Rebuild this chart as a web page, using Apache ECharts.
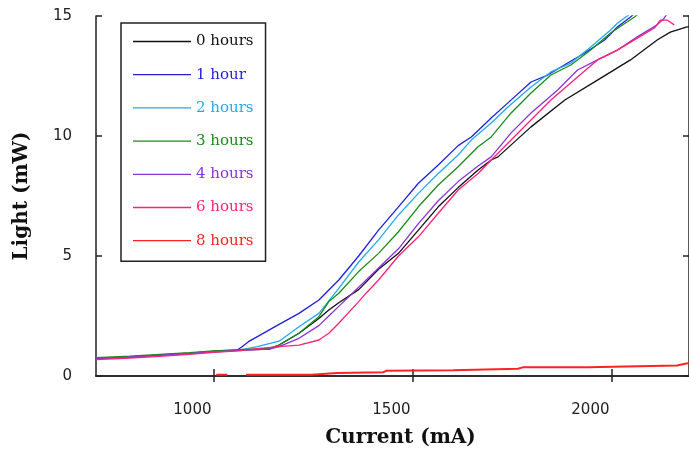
<!DOCTYPE html>
<html>
<head>
<meta charset="utf-8">
<script src="https://cdn.jsdelivr.net/npm/echarts@6/dist/echarts.min.js"></script>
<style>
html,body{margin:0;padding:0;background:#fff;}
#chart{width:689px;height:458px;}
</style>
</head>
<body>
<div id="chart"></div>
<script>
// ---- data (Current mA, Light mW) ----
var seriesNames = ['0 hours', '1 hour', '2 hours', '3 hours', '4 hours', '6 hours', '8 hours'];
var seriesColors = ['#111111', '#1f1fdd', '#22aaee', '#1a8c1a', '#8833dd', '#ff2277', '#ff2222'];
var xTickValues = [1000, 1500, 2000];
var yTickValues = [0, 5, 10, 15];

var hours0 = [[705,0.73],[790,0.8],[865,0.87],[940,0.94],[1000,1.02],[1065,1.08],[1140,1.12],[1165,1.29],[1215,1.78],[1265,2.4],[1290,2.75],[1315,3.05],[1365,3.6],[1415,4.45],[1465,5.11],[1515,6.08],[1565,7.05],[1615,7.85],[1665,8.58],[1698,9.0],[1715,9.13],[1798,10.38],[1883,11.5],[1965,12.33],[2048,13.17],[2115,14.0],[2148,14.33],[2188,14.54],[2195,14.56]];
var hours1 = [[705,0.73],[790,0.8],[865,0.88],[940,0.95],[1000,1.03],[1060,1.08],[1072,1.22],[1088,1.43],[1115,1.68],[1165,2.15],[1215,2.61],[1265,3.17],[1315,4.0],[1365,5.0],[1415,6.08],[1465,7.05],[1515,8.03],[1565,8.79],[1615,9.6],[1648,9.96],[1698,10.75],[1740,11.38],[1798,12.25],[1840,12.54],[1890,13.04],[1933,13.46],[1983,14.0],[2015,14.54],[2048,14.96],[2078,15.4]];
var hours2 = [[705,0.72],[790,0.79],[865,0.87],[940,0.94],[1000,1.02],[1065,1.08],[1110,1.22],[1165,1.45],[1215,2.05],[1265,2.61],[1315,3.65],[1365,4.75],[1415,5.67],[1465,6.71],[1515,7.61],[1565,8.44],[1615,9.21],[1648,9.83],[1698,10.54],[1740,11.21],[1798,12.04],[1848,12.67],[1898,13.04],[1948,13.71],[1998,14.42],[2015,14.7],[2048,15.1],[2078,15.4]];
var hours3 = [[705,0.76],[790,0.83],[865,0.9],[940,0.97],[1000,1.05],[1065,1.1],[1140,1.15],[1165,1.29],[1215,1.78],[1265,2.47],[1290,3.1],[1315,3.45],[1365,4.35],[1415,5.11],[1465,6.01],[1515,7.05],[1565,7.96],[1615,8.72],[1665,9.55],[1698,9.96],[1748,10.96],[1798,11.79],[1848,12.54],[1898,12.96],[1948,13.58],[1998,14.29],[2058,14.96],[2090,15.4]];
var hours4 = [[705,0.72],[790,0.79],[865,0.86],[940,0.93],[1000,1.0],[1065,1.07],[1140,1.12],[1165,1.22],[1215,1.57],[1265,2.1],[1290,2.5],[1315,2.9],[1365,3.7],[1415,4.5],[1465,5.3],[1515,6.35],[1565,7.3],[1615,8.1],[1665,8.75],[1698,9.13],[1748,10.13],[1798,10.96],[1865,11.92],[1915,12.75],[1965,13.17],[2015,13.58],[2065,14.13],[2115,14.63],[2133,14.92],[2145,15.2]];
var hours6 = [[705,0.68],[790,0.75],[865,0.82],[940,0.9],[1000,0.99],[1065,1.05],[1115,1.15],[1165,1.22],[1215,1.29],[1265,1.5],[1290,1.78],[1315,2.2],[1365,3.1],[1383,3.44],[1415,4.0],[1465,5.0],[1515,5.8],[1565,6.78],[1615,7.75],[1665,8.44],[1698,9.0],[1748,9.83],[1798,10.67],[1848,11.5],[1915,12.46],[1965,13.17],[2015,13.58],[2065,14.08],[2108,14.5],[2123,14.83],[2140,14.83],[2158,14.63]];
var hours8 = [[1007,0.05],[1035,0.05],[1040,null],[1078,null],[1082,0.05],[1247,0.05],[1252,0.1],[1310,0.12],[1315,0.16],[1427,0.16],[1435,0.22],[1602,0.24],[1607,0.3],[1765,0.3],[1777,0.36],[1940,0.36],[1945,0.44],[2165,0.44],[2188,0.52],[2195,0.53]];
var allData = [hours0, hours1, hours2, hours3, hours4, hours6, hours8];

var chart = echarts.init(document.getElementById('chart'), null, {renderer: 'canvas'});
var axisColor = '#222';
var labelFont = {fontFamily: 'DejaVu Sans', fontSize: 15, color: '#222'};
var nameFont = {fontFamily: 'DejaVu Serif', fontWeight: 'bold', fontSize: 20, color: '#111'};
var plain = function (v) { return String(v); };
var lineIcon = 'path://M0,0L58,0L58,1.3L0,1.3Z';

var series = seriesNames.map(function (n, i) {
  return {
    name: n,
    type: 'line',
    data: allData[i],
    symbol: 'none',
    connectNulls: false,
    clip: true,
    lineStyle: {color: seriesColors[i], width: i === 6 ? 2 : 1.3},
    itemStyle: {color: seriesColors[i]},
    xAxisIndex: 0,
    yAxisIndex: 0,
    animation: false
  };
});

chart.setOption({
  backgroundColor: '#fff',
  animation: false,
  grid: {left: 96, top: 16, width: 596, height: 360},
  legend: {
    orient: 'vertical',
    left: 121,
    top: 23,
    padding: [11, 12, 13, 12],
    itemWidth: 58,
    itemHeight: 14,
    itemGap: 18.2,
    symbolKeepAspect: true,
    borderColor: '#222',
    borderWidth: 1.5,
    backgroundColor: '#fff',
    textStyle: {fontFamily: 'DejaVu Serif', fontSize: 15, lineHeight: 14},
    data: seriesNames.map(function (n, i) {
      return {name: n, icon: lineIcon, itemStyle: {color: seriesColors[i]}, textStyle: {color: seriesColors[i]}};
    })
  },
  xAxis: [{
    type: 'value',
    position: 'bottom',
    min: 705,
    max: 2195,
    name: 'Current (mA)',
    nameLocation: 'middle',
    nameGap: 52,
    nameTextStyle: Object.assign({padding: [0, 0, 0, 16]}, nameFont),
    axisLine: {show: true, lineStyle: {color: axisColor, width: 1.5}},
    axisTick: {show: true, inside: true, length: 7, customValues: xTickValues, lineStyle: {color: axisColor, width: 1.5}},
    axisLabel: Object.assign({show: true, margin: 27, customValues: xTickValues, padding: [0, 42, 0, 0], formatter: plain}, labelFont),
    splitLine: {show: false}
  }, {
    type: 'value',
    position: 'top',
    min: 705,
    max: 2195,
    axisLine: {show: true, lineStyle: {color: axisColor, width: 1.5}},
    axisTick: {show: true, inside: true, length: 6, customValues: xTickValues, lineStyle: {color: axisColor, width: 1.5}},
    axisLabel: {show: false},
    splitLine: {show: false}
  }],
  yAxis: [{
    type: 'value',
    position: 'left',
    min: 0,
    max: 15,
    interval: 5,
    name: 'Light (mW)',
    nameLocation: 'middle',
    nameRotate: 90,
    nameGap: 64,
    nameTextStyle: nameFont,
    axisLine: {show: true, lineStyle: {color: axisColor, width: 1.5}},
    axisTick: {show: true, inside: true, length: 6, lineStyle: {color: axisColor, width: 1.5}},
    axisLabel: Object.assign({show: true, margin: 24, formatter: plain}, labelFont),
    splitLine: {show: false}
  }, {
    type: 'value',
    position: 'right',
    min: 0,
    max: 15,
    interval: 5,
    axisLine: {show: true, lineStyle: {color: axisColor, width: 1.5}},
    axisTick: {show: true, inside: true, length: 6, lineStyle: {color: axisColor, width: 1.5}},
    axisLabel: {show: false},
    splitLine: {show: false}
  }],
  series: series
});
</script>
</body>
</html>
